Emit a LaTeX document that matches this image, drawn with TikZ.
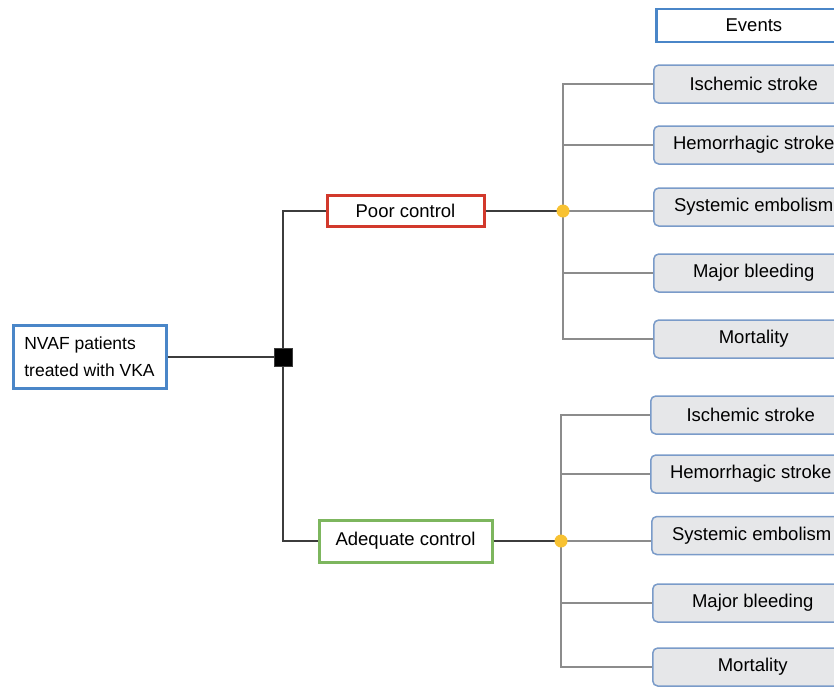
\documentclass[tikz,border=0pt]{standalone}
\usepackage{fontspec}
\setmainfont{Liberation Sans}
\usetikzlibrary{positioning}

\definecolor{mainblue}{HTML}{4A86C8}
\definecolor{poorred}{HTML}{D2392C}
\definecolor{adeqgreen}{HTML}{7DB65E}
\definecolor{evborder}{HTML}{7A9BC9}
\definecolor{evfill}{HTML}{E6E7E9}
\definecolor{dotyellow}{HTML}{F8C232}
\definecolor{trunkgray}{HTML}{3C3C3C}
\definecolor{branchgray}{HTML}{8C8C8C}

\tikzset{
  txt/.style={font=\fontsize{18.5}{22}\selectfont},
  startbox/.style={draw=mainblue, line width=3pt, fill=white, align=left,
    minimum width=153pt, minimum height=63pt, inner sep=0pt,
    font=\fontsize{17.5}{27}\selectfont},
  poorbox/.style={txt, draw=poorred, line width=3pt, fill=white,
    minimum width=157pt, minimum height=31pt, inner sep=0pt},
  adeqbox/.style={txt, draw=adeqgreen, line width=3pt, fill=white,
    minimum width=173pt, minimum height=42pt, inner sep=0pt},
  headbox/.style={txt, draw=mainblue, line width=2.8pt, fill=white,
    minimum width=195pt, minimum height=33pt, inner sep=0pt, anchor=west},
  eventbox/.style={txt, draw=evborder, line width=1.5pt, fill=evfill,
    rounded corners=5pt, minimum width=200pt, minimum height=38pt,
    inner sep=0pt, anchor=west},
  trunk/.style={draw=trunkgray, line width=1.6pt},
  branch/.style={draw=branchgray, line width=1.4pt},
  junction/.style={fill=black, draw=trunkgray, minimum size=18pt, inner sep=0pt},
  chance/.style={circle, fill=dotyellow, minimum size=13pt, inner sep=0pt}
}

\begin{document}
\begin{tikzpicture}[x=1pt,y=-1pt]
  \useasboundingbox (0,0) rectangle (834,689);
  \clip (0,0) rectangle (834,689);

  % patients and strategies
  \node[startbox] (nvaf) at (89.5,357) {NVAF patients\\treated with VKA};
  \node[poorbox] (poor) at (405.5,211) {Poor control};
  \node[adeqbox] (adeq) at (405.5,541) {Adequate control};
  \coordinate (sq) at (283,357);
  \coordinate (dotA) at (563,211);
  \coordinate (dotB) at (561,541);

  % events
  \node[headbox] (events) at (655,25.5) {Events};

  \node[eventbox] (isA) at (653,84) {Ischemic stroke};
  \node[eventbox] (hsA) at (653,145) {Hemorrhagic stroke};
  \node[eventbox] (seA) at (653,207) {Systemic embolism};
  \node[eventbox] (mbA) at (653,273) {Major bleeding};
  \node[eventbox] (moA) at (653,339) {Mortality};

  \node[eventbox] (isB) at (650,415) {Ischemic stroke};
  \node[eventbox] (hsB) at (650,474) {Hemorrhagic stroke};
  \node[eventbox] (seB) at (651,535.5) {Systemic embolism};
  \node[eventbox] (mbB) at (652,603) {Major bleeding};
  \node[eventbox] (moB) at (652,667) {Mortality};

  % tree lines
  \draw[trunk] (nvaf.east) -- (sq);
  \draw[trunk] (poor.west) -| (sq) |- (adeq.west);
  \draw[trunk] (poor.east) -- (dotA);
  \draw[trunk] (adeq.east) -- (dotB);

  \draw[branch] (isA.west) -| (dotA) |- (moA.west);
  \draw[branch] (dotA |- hsA.west) -- (hsA.west);
  \draw[branch] (dotA) -- (dotA -| seA.west);
  \draw[branch] (dotA |- mbA.west) -- (mbA.west);

  \draw[branch] (isB.west) -| (dotB) |- (moB.west);
  \draw[branch] (dotB |- hsB.west) -- (hsB.west);
  \draw[branch] (dotB) -- (dotB -| seB.west);
  \draw[branch] (dotB |- mbB.west) -- (mbB.west);

  \node[junction] (dec) at (sq) {};
  \node[chance] (chA) at (dotA) {};
  \node[chance] (chB) at (dotB) {};
\end{tikzpicture}
\end{document}
